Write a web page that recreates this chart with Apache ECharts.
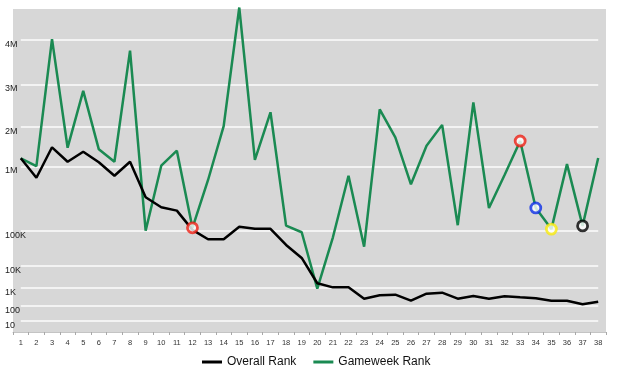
<!DOCTYPE html>
<html>
<head>
<meta charset="utf-8">
<title>Rank history</title>
<script src="https://cdn.jsdelivr.net/npm/echarts@6/dist/echarts.min.js"></script>
<style>
  html, body { margin: 0; padding: 0; background: #fff; }
  #main { width: 620px; height: 376px; }
</style>
</head>
<body>
<div id="main"></div>
<script>
// gameweeks on the x axis
const gameweeks = ['1','2','3','4','5','6','7','8','9','10','11','12','13','14','15','16','17','18','19',
  '20','21','22','23','24','25','26','27','28','29','30','31','32','33','34','35','36','37','38'];

const overallRank = [1210000, 670000, 1486000, 1120000, 1375000, 1106000, 720000, 1120000, 333000, 233000,
  207000, 104000, 58000, 58000, 116000, 108000, 108000, 40000, 17000, 1640,
  1070, 1070, 255, 393, 425, 197, 482, 548, 255, 359,
  255, 346, 304, 268, 197, 197, 124, 173];

const gameweekRank = [1208000, 1010000, 4020000, 1476000, 2850000, 1435000, 1120000, 3760000, 101000, 1020000,
  1400000, 112000, 618000, 2020000, 4730000, 1165000, 2346000, 121000, 92000, 915,
  66000, 720000, 35600, 2416000, 1740000, 530000, 1527000, 2050000, 123000, 2580000,
  227000, 738000, 1645000, 228000, 107000, 1060000, 120000, 1215000];

// marked gameweeks on the gameweek rank line
const markedWeeks = ['12', '33', '34', '35', '37'];

const yTickValues = [10, 100, 1000, 10000, 100000, 1000000, 2000000, 3000000, 4000000];
const yTickLabels = ['10', '100', '1K', '10K', '100K', '1M', '2M', '3M', '4M'];

// the y scale is uneven: log below 1M, linear above it
const yStops = [11, 26, 44, 66, 101, 165.5, 205, 247.5, 292];
const markColors = ['#ee1f14', '#ee1f14', '#0b2ee6', '#f7ea0c', '#000000'];

function rankToAxis(r) {
  const n = yTickValues.length;
  let i = 0;
  while (i < n - 2 && r > yTickValues[i + 1]) i++;
  const a = yTickValues[i], b = yTickValues[i + 1];
  let t;
  if (b <= 1000000) {
    t = (Math.log10(r) - Math.log10(a)) / (Math.log10(b) - Math.log10(a));
  } else {
    t = (r - a) / (b - a);
  }
  return yStops[i] + t * (yStops[i + 1] - yStops[i]);
}

const chart = echarts.init(document.getElementById('main'), null, { renderer: 'canvas' });

const tickPos = yTickValues.map(rankToAxis);

const option = {
  animation: false,
  textStyle: { fontFamily: 'Liberation Sans, Arial, sans-serif' },
  grid: {
    left: 13, right: 14, top: 9, bottom: 44,
    show: true, backgroundColor: '#d7d7d7', borderWidth: 0
  },
  legend: {
    data: ['Overall Rank', 'Gameweek Rank'],
    left: 197, top: 351,
    icon: 'rect',
    itemWidth: 20, itemHeight: 3, itemGap: 17,
    textStyle: { fontSize: 12, color: '#111' }
  },
  xAxis: {
    type: 'category',
    data: gameweeks,
    boundaryGap: true,
    axisLine: { show: true, lineStyle: { color: '#c4c4c4' } },
    axisTick: { show: true, length: 3, lineStyle: { color: '#a8a8a8' } },
    axisLabel: { interval: 0, fontSize: 7.5, color: '#333', margin: 7 },
    splitLine: { show: false }
  },
  yAxis: {
    type: 'value',
    min: 0,
    max: 323,
    axisLine: { show: false },
    axisTick: { show: false },
    splitLine: { show: false },
    axisLabel: {
      customValues: tickPos,
      formatter: function (v) {
        const i = tickPos.findIndex(p => Math.abs(p - v) < 0.01);
        return i >= 0 ? yTickLabels[i] : '';
      },
      align: 'left',
      verticalAlign: 'top',
      margin: 8,
      fontSize: 9,
      color: '#222'
    }
  },
  series: [
    {
      // gridlines only span the first to last gameweek
      name: 'grid',
      type: 'line',
      data: [],
      z: 1,
      markLine: {
        z: 1,
        silent: true,
        symbol: ['none', 'none'],
        label: { show: false },
        lineStyle: { color: '#f3f3f3', width: 2, type: 'solid' },
        emphasis: { disabled: true },
        data: tickPos.map(p => [{ coord: ['1', p] }, { coord: ['38', p] }])
      }
    },
    {
      name: 'Overall Rank',
      type: 'line',
      symbol: 'none',
      clip: false,
      z: 3,
      lineStyle: { color: '#000', width: 2.5 },
      itemStyle: { color: '#000' },
      data: overallRank.map(rankToAxis)
    },
    {
      name: 'Gameweek Rank',
      type: 'line',
      symbol: 'none',
      clip: false,
      z: 2,
      lineStyle: { color: '#1a8a52', width: 2.5 },
      itemStyle: { color: '#1a8a52' },
      data: gameweekRank.map(rankToAxis)
    },
    {
      name: 'marks',
      type: 'scatter',
      z: 5,
      symbol: 'circle',
      symbolSize: 10,
      data: markedWeeks.map((w, i) => ({
        value: [w, rankToAxis(gameweekRank[gameweeks.indexOf(w)])],
        itemStyle: { color: '#fff', borderColor: markColors[i], borderWidth: 2.8 }
      }))
    }
  ]
};

chart.setOption(option);
</script>
</body>
</html>
